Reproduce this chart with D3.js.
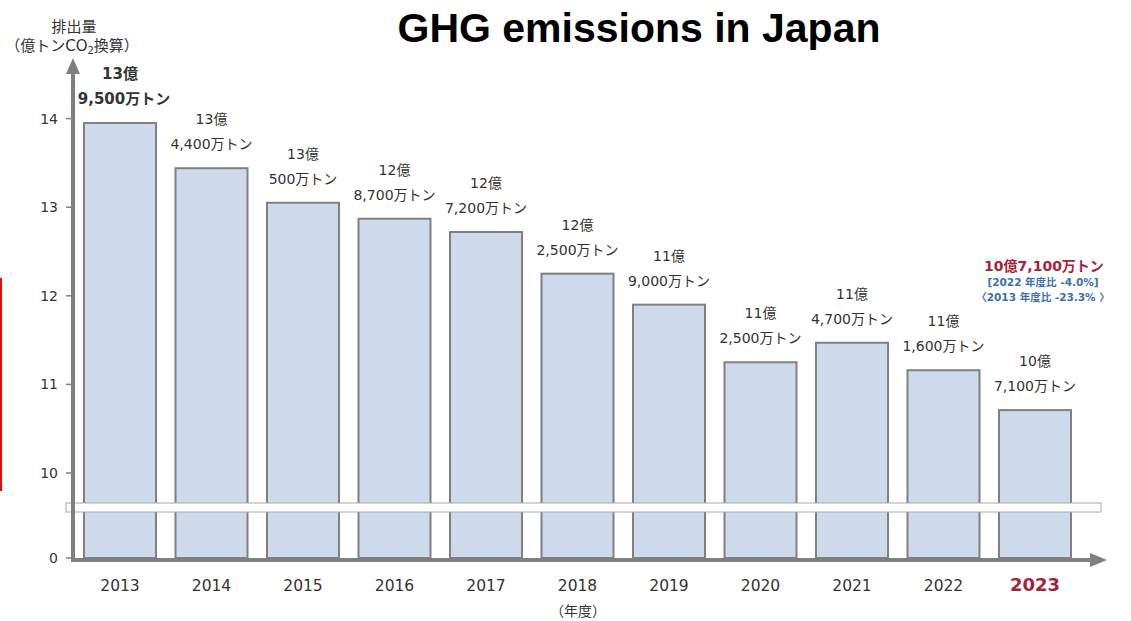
<!DOCTYPE html>
<html>
<head>
<meta charset="utf-8">
<script src="https://cdn.jsdelivr.net/npm/d3@7"></script>
<style>
  html, body { margin: 0; padding: 0; background: #fff; }
  svg { display: block; }
</style>
</head>
<body>
<svg id="chart" width="1131" height="621"></svg>
<script>
// Fiscal years and total GHG emissions (hundred million t-CO2)
const years = ["2013", "2014", "2015", "2016", "2017", "2018", "2019", "2020", "2021", "2022", "2023"];
const emissions = [13.95, 13.44, 13.05, 12.87, 12.72, 12.25, 11.90, 11.25, 11.47, 11.16, 10.71];
const yTicks = [0, 10, 11, 12, 13, 14];
const latestNotes = ["[2022 年度比 -4.0%]", "〈2013 年度比 -23.3% 〉"];

const svg = d3.select("#chart");
const JP = "'DejaVu Sans', 'Noto Sans CJK JP', sans-serif";
const axisGray = "#7f7f7f";
const darkRed = "#a3233b";

// Broken value axis: 0 sits at the floor, the upper part spans 10–14+
const y = d3.scaleLinear().domain([0, 10, 14]).range([558, 473, 118.6]);
const x = d3.scaleBand().domain(years).range([84, 1071]).paddingInner(0.213).paddingOuter(0);

// Split a value into 億 and 万トン parts
const okuPart = v => Math.floor(v + 1e-9);
const manPart = v => Math.round((v - okuPart(v)) * 10000);
const fmt = d3.format(",");

// Bars
svg.append("g").selectAll("rect").data(years).join("rect")
  .attr("x", d => x(d))
  .attr("y", (d, i) => y(emissions[i]))
  .attr("width", x.bandwidth())
  .attr("height", (d, i) => y(0) - y(emissions[i]))
  .attr("fill", "#cddaeb")
  .attr("stroke", "#808080")
  .attr("stroke-width", 2);

// Value labels above each bar (base year in bold)
const lbl = svg.append("g").attr("font-family", JP).attr("fill", "#333").attr("text-anchor", "middle");
years.forEach((yr, i) => {
  const v = emissions[i];
  const cx = x(yr) + x.bandwidth() / 2;
  const top = y(v);
  const bold = i === 0;
  lbl.append("text").attr("x", cx).attr("y", top - 44)
    .attr("font-size", bold ? 15 : 14).attr("font-weight", bold ? "bold" : "normal")
    .text(okuPart(v) + "億");
  lbl.append("text").attr("x", cx + (bold ? 4 : 0)).attr("y", top - 19)
    .attr("font-size", bold ? 15 : 14).attr("font-weight", bold ? "bold" : "normal")
    .text(fmt(manPart(v)) + "万トン");
});

// Axis break band
svg.append("rect").attr("x", 66).attr("y", 503).attr("width", 1035).attr("height", 9)
  .attr("fill", "#fff").attr("stroke", "#a8a8a8").attr("stroke-width", 1);

// Y axis with arrow
svg.append("line").attr("x1", 73).attr("x2", 73).attr("y1", 561).attr("y2", 72)
  .attr("stroke", axisGray).attr("stroke-width", 4);
svg.append("path").attr("d", "M73,58 L66,74 L80,74 Z").attr("fill", axisGray);

// X axis with arrow
svg.append("line").attr("x1", 71).attr("x2", 1092).attr("y1", 560).attr("y2", 560)
  .attr("stroke", axisGray).attr("stroke-width", 4);
svg.append("path").attr("d", "M1107,560 L1090,553 L1090,567 Z").attr("fill", axisGray);

// Y ticks
const yt = svg.append("g").attr("font-family", JP).attr("font-size", 14).attr("fill", "#333");
yTicks.forEach(t => {
  yt.append("line").attr("x1", 66).attr("x2", 71).attr("y1", y(t)).attr("y2", y(t))
    .attr("stroke", axisGray).attr("stroke-width", 1.5);
  yt.append("text").attr("x", 58).attr("y", y(t)).attr("dy", "0.35em")
    .attr("text-anchor", "end").text(t);
});

// X tick labels
const xt = svg.append("g").attr("font-family", JP).attr("text-anchor", "middle");
years.forEach((yr, i) => {
  const last = i === years.length - 1;
  xt.append("text").attr("x", x(yr) + x.bandwidth() / 2).attr("y", 591)
    .attr("font-size", last ? 18 : 15.5)
    .attr("font-weight", last ? "bold" : "normal")
    .attr("fill", last ? darkRed : "#333")
    .text(yr);
});
svg.append("text").attr("x", 578).attr("y", 616).attr("text-anchor", "middle")
  .attr("font-family", JP).attr("font-size", 14).attr("fill", "#333").text("（年度）");

// Y axis title
const yTitle = svg.append("g").attr("font-family", JP).attr("font-size", 15).attr("fill", "#333").attr("text-anchor", "middle");
yTitle.append("text").attr("x", 74).attr("y", 32).text("排出量");
const t2 = yTitle.append("text").attr("x", 72).attr("y", 51);
t2.append("tspan").text("（億トンCO");
t2.append("tspan").attr("font-size", 10).attr("dy", 3).text("2");
t2.append("tspan").attr("dy", -3).text("換算）");

// Title
svg.append("text").attr("x", 639).attr("y", 42).attr("text-anchor", "middle")
  .attr("font-family", "'Liberation Sans', Arial, sans-serif")
  .attr("font-size", 41).attr("font-weight", "bold").attr("fill", "#000")
  .text("GHG emissions in Japan");

// Latest-year callout
const last = emissions[emissions.length - 1];
const co = svg.append("g").attr("font-family", JP).attr("text-anchor", "middle").attr("font-weight", "bold");
co.append("text").attr("x", 1044).attr("y", 271).attr("font-size", 14).attr("fill", darkRed)
  .text(okuPart(last) + "億" + fmt(manPart(last)) + "万トン");
latestNotes.forEach((n, i) => {
  co.append("text").attr("x", 1043).attr("y", 286 + i * 15).attr("font-size", 10.5).attr("fill", "#3b6fb3").text(n);
});

// Red marker line at the left edge
svg.append("line").attr("x1", 1).attr("x2", 1).attr("y1", 278).attr("y2", 491)
  .attr("stroke", "#ff0000").attr("stroke-width", 2);
</script>
</body>
</html>
